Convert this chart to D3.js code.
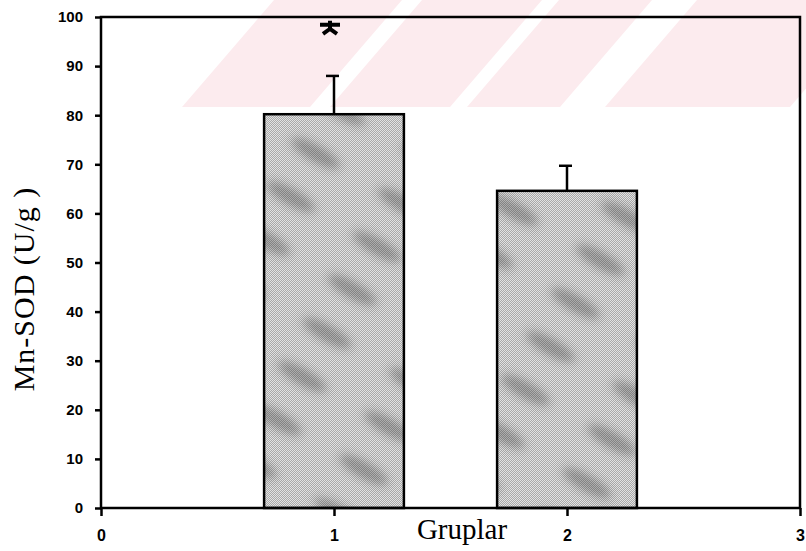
<!DOCTYPE html>
<html lang="tr">
<head>
    <meta charset="UTF-8">
    <script src="https://d3js.org/d3.v7.min.js" charset="utf-8"></script>
    <title>Mn-SOD</title>
    <style>
        body { margin: 0; background: white; }
        .tick text { font-family: "Liberation Sans", Arial, sans-serif; font-weight: bold; }
    </style>
</head>
<body>
<div id="chart"></div>

<script>
    // groups, means and error (SD) values
    const groups = [1, 2];
    const means = [80.2, 64.6];
    const errors = [7.8, 5.1];
    const yTicks = [0, 10, 20, 30, 40, 50, 60, 70, 80, 90, 100];
    const xTicks = [0, 1, 2, 3];
    const starGroup = 1;      // significance mark over group 1
    const starValue = 97.8;

    const width = 806;
    const height = 551;

    const svg = d3.select("#chart").append("svg")
        .attr("width", width)
        .attr("height", height);

    const x = d3.scaleLinear().domain([0, 3]).range([101, 800]);
    const y = d3.scaleLinear().domain([0, 100]).range([508, 17]);

    // textured grey fill for bars
    const defs = svg.append("defs");
    const dither = defs.append("pattern")
        .attr("id", "dither")
        .attr("patternUnits", "userSpaceOnUse")
        .attr("width", 2).attr("height", 2);
    dither.append("rect").attr("width", 2).attr("height", 2).attr("fill", "#a9a9a9");
    dither.append("rect").attr("x", 0).attr("y", 0).attr("width", 1).attr("height", 1).attr("fill", "#e2e2e2");
    dither.append("rect").attr("x", 1).attr("y", 1).attr("width", 1).attr("height", 1).attr("fill", "#e2e2e2");

    defs.append("filter").attr("id", "blur")
        .attr("x", "-50%").attr("y", "-50%").attr("width", "200%").attr("height", "200%")
        .append("feGaussianBlur").attr("stdDeviation", 5);

    // soft darker diagonal blotches, kept inside the tile so the blur is not cut
    const streak = defs.append("pattern")
        .attr("id", "streak")
        .attr("patternUnits", "userSpaceOnUse")
        .attr("width", 100).attr("height", 50)
        .attr("patternTransform", "rotate(30)");
    streak.append("ellipse")
        .attr("cx", 50).attr("cy", 25).attr("rx", 28).attr("ry", 8)
        .attr("fill", "#222").attr("opacity", 0.32)
        .attr("filter", "url(#blur)");

    // pink watermark stripes (scanned page background)
    const wmStripes = [[182, 310], [330, 450], [467, 560], [605, 790]];
    svg.append("g").selectAll("path")
        .data(wmStripes)
        .enter()
        .append("path")
        .attr("d", d => `M${d[0]},107 L${d[1]},107 L${d[1] + 92},0 L${d[0] + 92},0 Z`)
        .attr("fill", "#fcebee");

    const barW = x(0.6) - x(0);

    // bars
    const bars = svg.append("g");
    bars.selectAll("rect.base")
        .data(groups)
        .enter()
        .append("rect")
        .attr("class", "base")
        .attr("x", d => x(d) - barW / 2)
        .attr("y", (d, i) => y(means[i]))
        .attr("width", barW)
        .attr("height", (d, i) => y(0) - y(means[i]))
        .attr("fill", "url(#dither)");
    bars.selectAll("rect.tex")
        .data(groups)
        .enter()
        .append("rect")
        .attr("class", "tex")
        .attr("x", d => x(d) - barW / 2)
        .attr("y", (d, i) => y(means[i]))
        .attr("width", barW)
        .attr("height", (d, i) => y(0) - y(means[i]))
        .attr("fill", "url(#streak)")
        .attr("stroke", "#000")
        .attr("stroke-width", 2.5);

    // error bars (upper only)
    const err = svg.append("g").attr("stroke", "#000").attr("stroke-width", 2.5);
    err.selectAll("line.stem")
        .data(groups)
        .enter()
        .append("line")
        .attr("x1", d => x(d)).attr("x2", d => x(d))
        .attr("y1", (d, i) => y(means[i]))
        .attr("y2", (d, i) => y(means[i] + errors[i]));
    err.selectAll("line.cap")
        .data(groups)
        .enter()
        .append("line")
        .attr("x1", d => x(d) - 8).attr("x2", d => x(d) + 5)
        .attr("y1", (d, i) => y(means[i] + errors[i]))
        .attr("y2", (d, i) => y(means[i] + errors[i]));

    // asterisk (chunky, drawn as strokes)
    const sx = x(starGroup) - 4;
    const sy = y(starValue);
    svg.append("path")
        .attr("d", `M${sx - 10},${sy - 3} H${sx + 10} M${sx},${sy - 7} V${sy + 1} L${sx - 7},${sy + 6} M${sx},${sy + 1} L${sx + 7},${sy + 6}`)
        .attr("fill", "none")
        .attr("stroke", "#000")
        .attr("stroke-width", 4);

    // axes
    const yAxis = svg.append("g")
        .attr("transform", `translate(${x(0)},0)`)
        .call(d3.axisLeft(y).tickValues(yTicks).tickSize(6).tickPadding(12).tickFormat(d3.format("d")));
    yAxis.selectAll("text").attr("font-size", 15).attr("fill", "#000");

    const xAxis = svg.append("g")
        .attr("transform", `translate(0,${y(0)})`)
        .call(d3.axisBottom(x).tickValues(xTicks).tickSize(8).tickPadding(14).tickFormat(d3.format("d")));
    xAxis.selectAll("text").attr("font-size", 16).attr("fill", "#000");

    [yAxis, xAxis].forEach(a => {
        a.selectAll("line, path").attr("stroke", "#000").attr("stroke-width", 2.5);
        a.select(".domain").attr("d", null);
    });

    // frame
    svg.append("rect")
        .attr("x", x(0)).attr("y", y(100))
        .attr("width", x(3) - x(0)).attr("height", y(0) - y(100))
        .attr("fill", "none")
        .attr("stroke", "#000")
        .attr("stroke-width", 2.5);

    // axis titles
    svg.append("text")
        .attr("transform", `translate(34,289) rotate(-90)`)
        .attr("text-anchor", "middle")
        .attr("font-family", "Liberation Serif, 'Times New Roman', serif")
        .attr("font-size", 30)
        .attr("letter-spacing", 1)
        .text("Mn-SOD (U/g )");

    svg.append("text")
        .attr("x", 462)
        .attr("y", 539)
        .attr("text-anchor", "middle")
        .attr("font-family", "Liberation Serif, 'Times New Roman', serif")
        .attr("font-size", 29)
        .text("Gruplar");
</script>
</body>
</html>
